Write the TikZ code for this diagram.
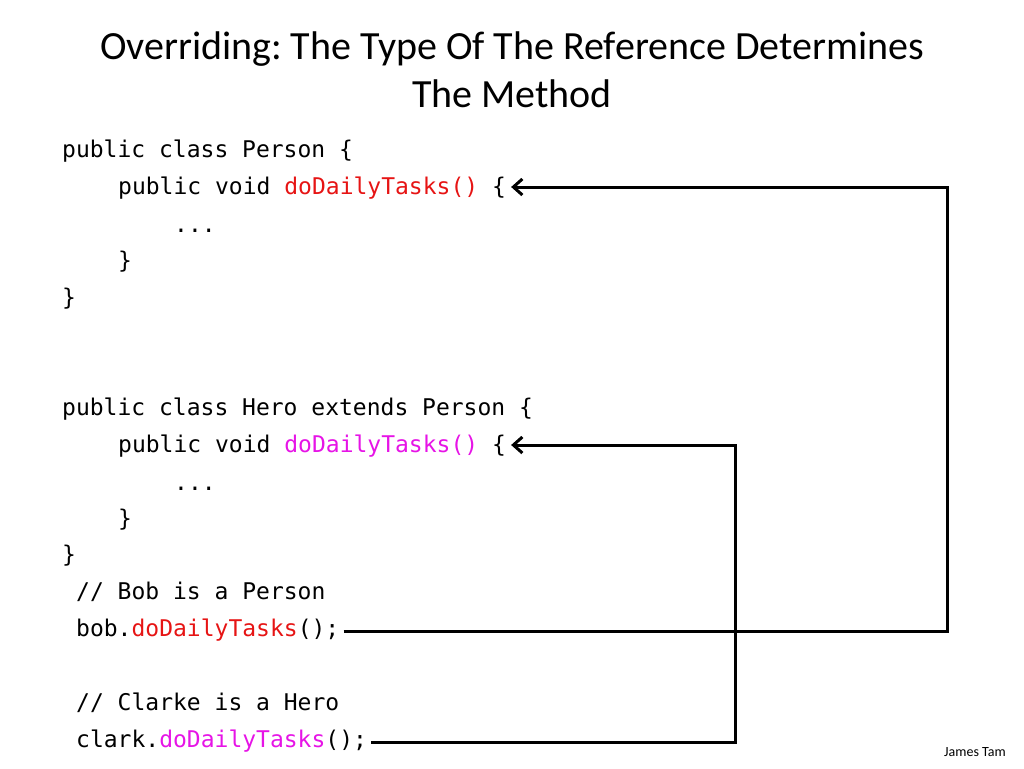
\documentclass[tikz,border=0pt]{standalone}
\usepackage{fontspec}
\setmainfont{Carlito}
\newfontfamily\codefont{DejaVu Sans Mono}
\usetikzlibrary{arrows.meta}
\definecolor{callred}{RGB}{230,20,20}
\definecolor{callpink}{RGB}{230,20,230}
\frenchspacing
\begin{document}
\begin{tikzpicture}[x=1pt,y=-1pt]
    % Styles
    \tikzset{code/.style={font=\codefont\fontsize{23}{26}\selectfont, anchor=mid west, inner sep=0pt},
             link/.style={line width=3pt, -{Straight Barb[length=9pt,width=16pt,line width=3pt]}}}
    \useasboundingbox (0,0) rectangle (1024,768);

    % Titel
    \node (title) at (512,70) [align=center, font=\fontsize{40}{48}\selectfont] {Overriding: The Type Of The Reference Determines\\The Method};

    % Klasse Person
    \node (p1) at (62,155) [code] {public class Person \{};
    \node (p2) at (118,192) [code] {public void \textcolor{callred}{doDailyTasks()}\ \{};
    \node (p3) at (174,230) [code] {...};
    \node (p4) at (118,266) [code] {\}};
    \node (p5) at (62,303) [code] {\}};

    % Klasse Hero
    \node (h1) at (62,413) [code] {public class Hero extends Person \{};
    \node (h2) at (118,450) [code] {public void \textcolor{callpink}{doDailyTasks()}\ \{};
    \node (h3) at (174,488) [code] {...};
    \node (h4) at (118,524) [code] {\}};
    \node (h5) at (62,560) [code] {\}};

    % Aufrufe
    \node (c1) at (76,597) [code] {// Bob is a Person};
    \node (bob) at (76,634) [code] {bob.\textcolor{callred}{doDailyTasks}();};
    \node (c2) at (76,708) [code] {// Clarke is a Hero};
    \node (clark) at (76,745) [code] {clark.\textcolor{callpink}{doDailyTasks}();};

    \node (author) at (975,752) [font=\fontsize{14}{16}\selectfont] {James Tam};

    % Pfeile
    \coordinate (turnA) at (947,187);
    \coordinate (turnB) at (735,445);
    \draw [link] ([xshift=4pt,yshift=-2pt]bob.east) -- ([yshift=-2pt]bob.east -| turnA) -- (turnA) -- ([xshift=5pt]turnA -| p2.east);
    \draw [link] ([xshift=4pt,yshift=-2pt]clark.east) -- ([yshift=-2pt]clark.east -| turnB) -- (turnB) -- ([xshift=5pt]turnB -| h2.east);
\end{tikzpicture}
\end{document}
